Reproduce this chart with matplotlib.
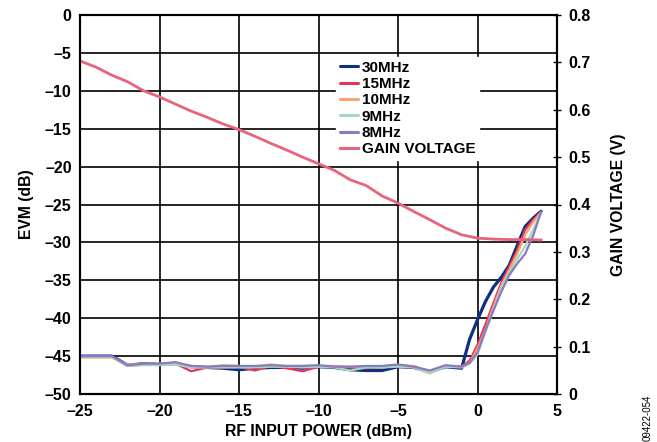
import matplotlib
matplotlib.use("Agg")
import matplotlib.pyplot as plt

plt.rcParams['font.family'] = ['Liberation Sans', 'DejaVu Sans']
plt.rcParams['font.weight'] = 'bold'

# ---- data ----
power = [-25, -24, -23, -22, -21, -20, -19, -18, -17, -16, -15, -14, -13, -12,
         -11, -10, -9, -8, -7, -6, -5, -4, -3, -2, -1,
         -0.5, 0, 0.5, 1, 1.5, 2, 2.5, 3, 3.5, 4]

evm_30 = [-45.0, -45.0, -45.0, -46.2, -46.0, -46.1, -46.0, -46.4, -46.5, -46.6,
          -46.8, -46.6, -46.5, -46.5, -46.6, -46.4, -46.5, -46.8, -46.9, -46.9,
          -46.4, -46.5, -47.1, -46.4, -46.6,
          -42.8, -40.2, -37.8, -35.9, -34.6, -33.0, -30.4, -27.9, -26.8, -25.9]
evm_15 = [-45.1, -45.1, -45.1, -46.3, -46.1, -46.1, -46.0, -47.0, -46.5, -46.5,
          -46.4, -46.9, -46.3, -46.6, -47.0, -46.4, -46.4, -46.5, -46.6, -46.5,
          -46.3, -46.5, -47.0, -46.3, -46.4,
          -45.6, -43.5, -40.8, -38.0, -35.3, -33.2, -31.0, -28.3, -27.0, -26.0]
evm_10 = [-45.2, -45.2, -45.2, -46.1, -46.0, -46.0, -46.0, -46.3, -46.4, -46.2,
          -46.3, -46.4, -46.1, -46.3, -46.3, -46.3, -46.3, -46.4, -46.4, -46.4,
          -46.2, -46.3, -47.1, -46.3, -46.4,
          -45.9, -44.0, -41.5, -38.5, -35.7, -33.6, -31.5, -29.0, -27.3, -26.0]
evm_9 = [-45.1, -45.1, -45.1, -46.3, -46.2, -46.2, -46.1, -46.5, -46.5, -46.5,
         -46.5, -46.5, -46.4, -46.4, -46.5, -46.4, -46.5, -46.9, -46.5, -46.5,
         -46.4, -46.5, -47.3, -46.4, -46.5,
         -46.0, -44.8, -41.8, -38.8, -36.0, -34.0, -32.2, -30.5, -28.3, -26.0]
evm_8 = [-45.0, -45.0, -45.0, -46.2, -46.0, -46.0, -45.8, -46.3, -46.4, -46.3,
         -46.3, -46.3, -46.2, -46.3, -46.3, -46.2, -46.4, -46.4, -46.3, -46.3,
         -46.1, -46.4, -46.9, -46.2, -46.4,
         -45.9, -44.5, -41.6, -39.0, -36.5, -34.3, -32.8, -31.5, -29.1, -26.0]

gain_power = [-25, -24, -23, -22, -21, -20, -19, -18, -17, -16, -15, -14, -13,
              -12, -11, -10, -9, -8, -7, -6, -5, -4, -3, -2, -1, 0, 1, 2, 3, 4]
gain_v = [0.703, 0.690, 0.673, 0.659, 0.640, 0.627, 0.612, 0.597, 0.584, 0.570,
          0.558, 0.544, 0.529, 0.515, 0.500, 0.486, 0.472, 0.452, 0.440, 0.418,
          0.403, 0.385, 0.368, 0.350, 0.336, 0.329, 0.327, 0.326, 0.326, 0.325]

x_ticks = [-25, -20, -15, -10, -5, 0, 5]
y_ticks = [0, -5, -10, -15, -20, -25, -30, -35, -40, -45, -50]
v_ticks = [0, 0.1, 0.2, 0.3, 0.4, 0.5, 0.6, 0.7, 0.8]

# ---- figure ----
fig = plt.figure(figsize=(6.57, 4.42), dpi=100)
ax = fig.add_axes([80/657, 1-394/442, 477/657, 379/442])

series = [("30MHz", evm_30, "#0f2f7f", 2.3),
          ("15MHz", evm_15, "#e8335a", 1.6),
          ("10MHz", evm_10, "#f8a46c", 1.6),
          ("9MHz", evm_9, "#a3d9c0", 1.6),
          ("8MHz", evm_8, "#8a79c4", 1.6)]
handles = []
for name, vals, col, lw in series:
    h, = ax.plot(power, vals, color=col, lw=lw, label=name, solid_capstyle='round')
    handles.append(h)

ax.set_xlim(-25, 5)
ax.set_ylim(-50, 0)
ax.set_xticks(x_ticks)
ax.set_yticks(y_ticks)
ax.set_xticklabels([("\u2013%d" % -t) if t < 0 else "%d" % t for t in x_ticks])
ax.set_yticklabels([("\u2013%d" % -t) if t < 0 else "%d" % t for t in y_ticks])
ax.grid(True, color='black', lw=1.2)
ax.tick_params(axis='both', length=0, labelsize=11.5)
ax.tick_params(axis='y', pad=6)
ax.tick_params(axis='x', pad=7)
for s in ax.spines.values():
    s.set_linewidth(1.5)
ax.set_xlabel("RF INPUT POWER (dBm)", fontsize=11.4, fontweight='bold', labelpad=4)
ax.set_ylabel("EVM (dB)", fontsize=11.3, fontweight='bold', labelpad=8)

ax2 = ax.twinx()
hg, = ax2.plot(gain_power, gain_v, color="#e8637c", lw=2.0, label="GAIN VOLTAGE")
handles.append(hg)
ax2.set_ylim(0, 0.8)
ax2.set_yticks(v_ticks)
ax2.set_yticklabels(["0"] + ["%.1f" % v for v in v_ticks[1:]])
ax2.tick_params(axis='y', direction='inout', length=6, width=1.0, labelsize=11.5, pad=5)
ax2.set_ylabel("GAIN VOLTAGE (V)", fontsize=11.3, fontweight='bold', labelpad=15)
for s in ax2.spines.values():
    s.set_linewidth(1.5)

leg = ax2.legend(handles=handles, loc='upper left',
                 bbox_to_anchor=((336-80)/477, (394-57)/379),
                 frameon=True, fancybox=False, framealpha=1.0,
                 edgecolor='white', facecolor='white',
                 prop={'size': 11, 'weight': 'bold'},
                 handlelength=1.2, handletextpad=0.25, labelspacing=0.15,
                 borderpad=0.25, borderaxespad=0)
for lh in leg.get_lines():
    lh.set_linewidth(2.2)

fig.text(648/657, 1-418/442, "09422-054", rotation=90, fontsize=7,
         fontweight='normal', ha='center', va='center')

fig.savefig("out.png", dpi=100)
